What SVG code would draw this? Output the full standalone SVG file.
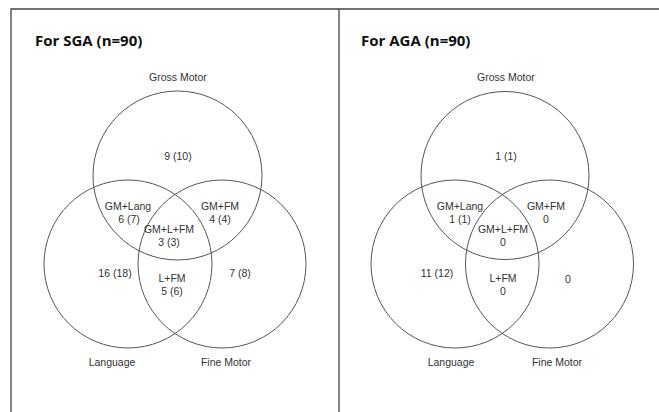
<svg xmlns="http://www.w3.org/2000/svg" width="659" height="412" viewBox="0 0 659 412">
<style>
.frame{fill:none;stroke:#444;stroke-width:1.3}
.c{fill:none;stroke:#555;stroke-width:1}
.t{font-family:"Liberation Sans",Arial,sans-serif;font-size:10.5px;fill:#333;text-anchor:middle}
.h{font-family:"Open Sans","Liberation Sans",sans-serif;font-size:15px;font-weight:bold;fill:#111}
</style>
<rect width="659" height="412" fill="#fff"/>
<g id="frame">
<path class="frame" d="M11 412V9H659M339 9V412"/>
</g>
<g id="sga">
<text class="h" x="35" y="46">For SGA (n=90)</text>
<g id="sga-gm"><circle class="c" cx="177.5" cy="175.5" r="84.5"/><text class="t" x="178" y="81">Gross Motor</text><text class="t" x="178" y="160">9 (10)</text></g>
<g id="sga-lang"><circle class="c" cx="128" cy="264" r="84"/><text class="t" x="112" y="366">Language</text><text class="t" x="115" y="277">16 (18)</text></g>
<g id="sga-fm"><circle class="c" cx="222" cy="264" r="84"/><text class="t" x="226" y="366">Fine Motor</text><text class="t" x="240" y="277">7 (8)</text></g>
<g id="sga-gml"><text class="t" x="128" y="210">GM+Lang</text><text class="t" x="129" y="223">6 (7)</text></g>
<g id="sga-gmfm"><text class="t" x="220" y="210">GM+FM</text><text class="t" x="220" y="223">4 (4)</text></g>
<g id="sga-all"><text class="t" x="169" y="233">GM+L+FM</text><text class="t" x="169" y="246">3 (3)</text></g>
<g id="sga-lfm"><text class="t" x="172" y="282">L+FM</text><text class="t" x="172" y="295">5 (6)</text></g>
</g>
<g id="aga">
<text class="h" x="361" y="46">For AGA (n=90)</text>
<g id="aga-gm"><circle class="c" cx="505" cy="175.5" r="84"/><text class="t" x="506" y="81">Gross Motor</text><text class="t" x="506" y="160">1 (1)</text></g>
<g id="aga-lang"><circle class="c" cx="455" cy="264" r="84"/><text class="t" x="451" y="366">Language</text><text class="t" x="437" y="277">11 (12)</text></g>
<g id="aga-fm"><circle class="c" cx="549.5" cy="264" r="84"/><text class="t" x="557" y="366">Fine Motor</text><text class="t" x="568" y="283">0</text></g>
<g id="aga-gml"><text class="t" x="460" y="210">GM+Lang</text><text class="t" x="460" y="223">1 (1)</text></g>
<g id="aga-gmfm"><text class="t" x="546" y="210">GM+FM</text><text class="t" x="546" y="223">0</text></g>
<g id="aga-all"><text class="t" x="503" y="233">GM+L+FM</text><text class="t" x="503" y="246">0</text></g>
<g id="aga-lfm"><text class="t" x="503" y="282">L+FM</text><text class="t" x="503" y="295">0</text></g>
</g>
</svg>
